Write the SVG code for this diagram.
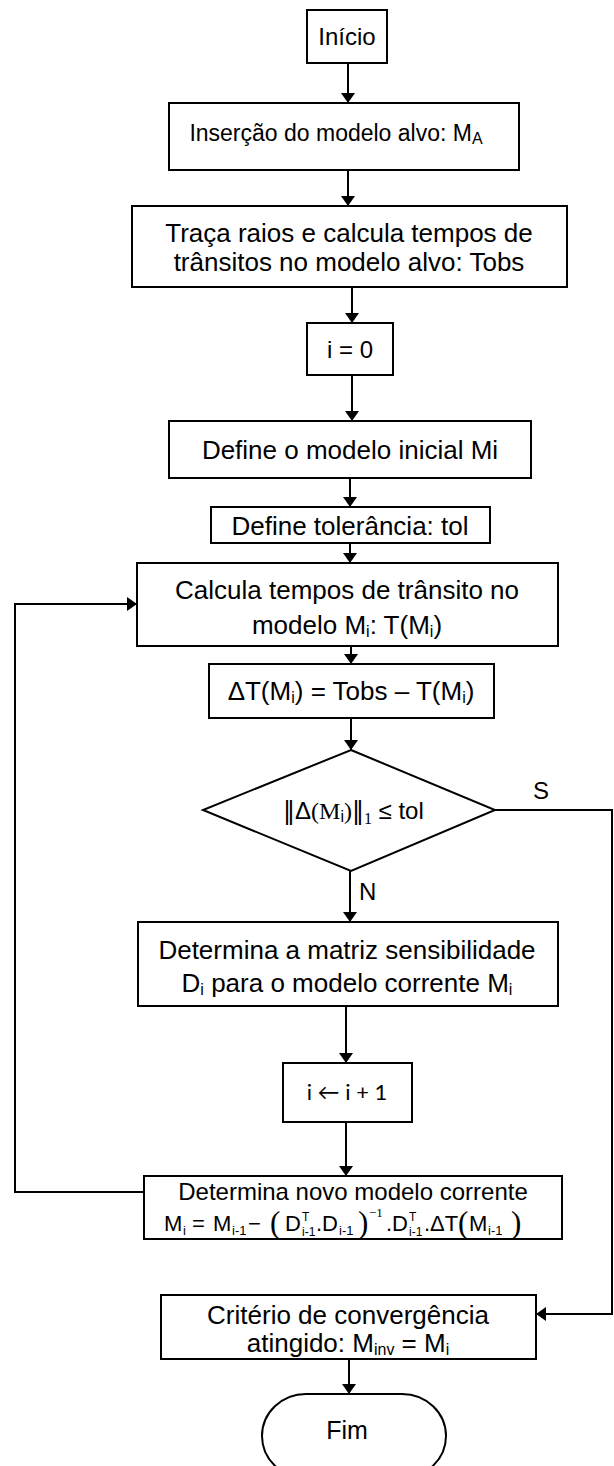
<svg xmlns="http://www.w3.org/2000/svg" width="614" height="1466" viewBox="0 0 614 1466">
<defs>
<style>
.box{fill:#fff;stroke:#000;stroke-width:2}
.ln{fill:none;stroke:#000;stroke-width:2}
text{font-family:"Liberation Sans",Arial,sans-serif;font-size:26px;fill:#000}
.c{text-anchor:middle}
.sub{font-size:16px}
.f{font-size:22px}
.fs{font-size:13px}
.fx{font-size:12px}
.serif{font-family:"Liberation Serif","Times New Roman",serif}
.big{font-family:"Liberation Serif","Times New Roman",serif;font-size:31px}
.bar{font-family:"DejaVu Sans",sans-serif}
.lato{font-family:Lato,"Liberation Sans",sans-serif}
</style>
<marker id="ah" viewBox="0 0 10 14" refX="10" refY="7" markerWidth="10" markerHeight="14" markerUnits="userSpaceOnUse" orient="auto">
<path d="M0,0 L10,7 L0,14 z" fill="#000"/>
</marker>
</defs>
<rect width="614" height="1466" fill="#fff"/>
<g id="connectors">
<path class="ln" d="M348,63 V103" marker-end="url(#ah)"/>
<path class="ln" d="M348,170 V206" marker-end="url(#ah)"/>
<path class="ln" d="M352,287 V323" marker-end="url(#ah)"/>
<path class="ln" d="M352,375 V421" marker-end="url(#ah)"/>
<path class="ln" d="M350,478 V507" marker-end="url(#ah)"/>
<path class="ln" d="M350,543 V563" marker-end="url(#ah)"/>
<path class="ln" d="M351,646 V664" marker-end="url(#ah)"/>
<path class="ln" d="M351,718 V750" marker-end="url(#ah)"/>
<path class="ln" d="M350,871 V922" marker-end="url(#ah)"/>
<path class="ln" d="M346,1006 V1063" marker-end="url(#ah)"/>
<path class="ln" d="M346,1122 V1176" marker-end="url(#ah)"/>
<path class="ln" d="M144,1192 H15 V604 H137" marker-end="url(#ah)"/>
<path class="ln" d="M495,810 H612 V1314 H536" marker-end="url(#ah)"/>
<path class="ln" d="M349,1359 V1394" marker-end="url(#ah)"/>
<text x="533" y="799" style="font-size:24px">S</text>
<text x="359" y="900" style="font-size:24px">N</text>
</g>
<g id="inicio">
<rect class="box" x="307" y="10" width="80" height="53"/>
<text class="c" x="347" y="45" style="font-size:24px">Início</text>
</g>
<g id="insercao">
<rect class="box" x="169" y="103" width="350" height="67"/>
<text class="c" x="336" y="141" style="font-size:23px">Inserção do modelo alvo: M<tspan class="sub" dy="3">A</tspan></text>
</g>
<g id="traca">
<rect class="box" x="132" y="206" width="435" height="81"/>
<text class="c" x="349" y="242">Traça raios e calcula tempos de</text>
<text class="c" x="349" y="271">trânsitos no modelo alvo: Tobs</text>
</g>
<g id="i0">
<rect class="box" x="307" y="323" width="86" height="52"/>
<text class="c" x="350" y="358" style="font-size:24px">i = 0</text>
</g>
<g id="defmodelo">
<rect class="box" x="169" y="421" width="362" height="57"/>
<text class="c" x="350" y="459">Define o modelo inicial Mi</text>
</g>
<g id="deftol">
<rect class="box" x="211" y="507" width="279" height="36"/>
<text class="c" x="350" y="535">Define tolerância: tol</text>
</g>
<g id="calcula">
<rect class="box" x="137" y="563" width="421" height="83"/>
<text class="c" x="347" y="599">Calcula tempos de trânsito no</text>
<text class="c" x="347" y="634">modelo M<tspan class="sub" dy="3">i</tspan><tspan dy="-3">: T(M</tspan><tspan class="sub" dy="3">i</tspan><tspan dy="-3">)</tspan></text>
</g>
<g id="deltat">
<rect class="box" x="209" y="664" width="285" height="54"/>
<text class="c" x="351" y="700">ΔT(M<tspan class="sub" dy="3">i</tspan><tspan dy="-3">) = Tobs – T(M</tspan><tspan class="sub" dy="3">i</tspan><tspan dy="-3">)</tspan></text>
</g>
<g id="decisao">
<polygon class="box" points="351,750 495,810 351,871 203,810"/>
<text x="283" y="819" style="font-size:24px"><tspan class="bar">‖</tspan><tspan>Δ</tspan><tspan class="serif">(M</tspan><tspan class="sub" dy="3">i</tspan><tspan class="serif" dy="-3">)</tspan><tspan class="bar">‖</tspan><tspan class="serif sub" dy="5">1</tspan><tspan dy="-5"> ≤ tol</tspan></text>
</g>
<g id="matriz">
<rect class="box" x="138" y="922" width="420" height="84"/>
<text class="c" x="347" y="959">Determina a matriz sensibilidade</text>
<text class="c" x="347" y="992">D<tspan class="sub" dy="3">i</tspan><tspan dy="-3"> para o modelo corrente M</tspan><tspan class="sub" dy="3">i</tspan></text>
</g>
<g id="incr">
<rect class="box" x="283" y="1063" width="129" height="59"/>
<text class="c lato" x="347" y="1100" style="font-size:22px">i ← i + 1</text>
</g>
<g id="novomodelo">
<rect class="box" x="144" y="1176" width="418" height="63"/>
<text class="c" x="353" y="1200" style="font-size:24px">Determina novo modelo corrente</text>
<text class="f" x="164" y="1231">M</text>
<text class="fs" x="183" y="1235">i</text>
<text class="f" x="192" y="1231">=</text>
<text class="f" x="213" y="1231">M</text>
<text class="fs" x="232" y="1235">i-1</text>
<text class="f" x="248" y="1231">−</text>
<text class="big" x="270" y="1233">(</text>
<text class="f" x="285" y="1231">D</text>
<text class="fx" x="302" y="1221">T</text>
<text class="fx" x="302" y="1236">i-1</text>
<text class="f" x="316" y="1231">.D</text>
<text class="fs" x="339" y="1235">i-1</text>
<text class="big" x="358" y="1233">)</text>
<text class="fs serif" x="369" y="1217">−1</text>
<text class="f" x="386" y="1231">.D</text>
<text class="fx" x="409" y="1221">T</text>
<text class="fx" x="409" y="1236">i-1</text>
<text class="f" x="424" y="1231">.ΔT</text>
<text class="big" x="458" y="1233">(</text>
<text class="f" x="469" y="1231">M</text>
<text class="fs" x="488" y="1235">i-1</text>
<text class="big" x="511" y="1233">)</text>
</g>
<g id="criterio">
<rect class="box" x="161" y="1295" width="375" height="64"/>
<text class="c" x="348" y="1324">Critério de convergência</text>
<text class="c" x="348" y="1352">atingido: M<tspan class="sub" dy="3">inv</tspan><tspan dy="-3"> = M</tspan><tspan class="sub" dy="3">i</tspan></text>
</g>
<g id="fim">
<rect class="box" x="262" y="1394" width="184" height="84" rx="44" ry="42"/>
<text class="c" x="347" y="1439" style="font-size:25px">Fim</text>
</g>
</svg>
